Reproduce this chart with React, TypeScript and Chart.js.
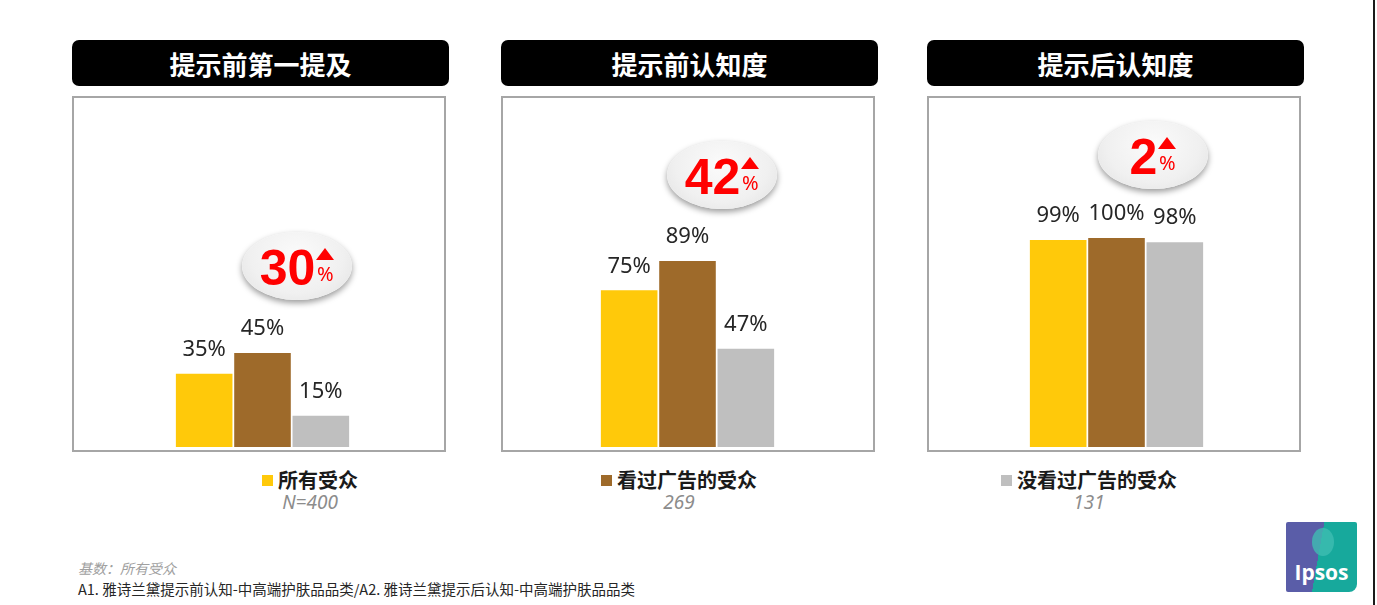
import React, { useEffect, useRef } from "react";
import { Chart, registerables } from "chart.js";

Chart.register(...registerables);

// ---- data ----
const panelTitles = ["提示前第一提及", "提示前认知度", "提示后认知度"];
const audienceGroups = ["所有受众", "看过广告的受众", "没看过广告的受众"];
const sampleSizes = ["N=400", "269", "131"];
const allAudience = [35, 75, 99];
const adExposed = [45, 89, 100];
const notExposed = [15, 47, 98];
const upliftValues = [30, 42, 2];
const footnoteBase = "基数：所有受众";
const footnoteSource = "A1. 雅诗兰黛提示前认知-中高端护肤品品类/A2. 雅诗兰黛提示后认知-中高端护肤品品类";

// ---- styles / layout ----
const groupColors = ["#FFC90A", "#9E6A2A", "#BFBFBF"];
const boxLeft = [72, 501, 927];
const boxWidth = 374;
const boxTop = 96;
const boxHeight = 356;
const barAreaLeft = [175, 600, 1029];
const barAreaWidth = 175;
const plotTop = 238;
const plotBottom = 447;
const badgeCenters = [
  [297, 266],
  [722, 175],
  [1153, 155],
];
const legendLeft = [262, 601, 1001];

const CJK = '"Noto Sans CJK SC", "Noto Sans", sans-serif';

const valueLabelPlugin = {
  id: "valueLabels",
  afterDatasetsDraw(chart: any) {
    const ctx = chart.ctx;
    ctx.save();
    ctx.font = '22px "Noto Sans", sans-serif';
    ctx.fillStyle = "#262626";
    ctx.textAlign = "center";
    ctx.textBaseline = "middle";
    chart.data.datasets.forEach((ds: any, di: number) => {
      const meta = chart.getDatasetMeta(di);
      meta.data.forEach((bar: any, i: number) => {
        ctx.fillText(ds.data[i] + "%", bar.x, bar.y - 24);
      });
    });
    ctx.restore();
  },
};

function PanelChart({ index }: { index: number }) {
  const ref = useRef<HTMLCanvasElement | null>(null);
  useEffect(() => {
    if (!ref.current) return;
    const canvasLeft = boxLeft[index] + 1;
    const canvasTop = boxTop + 1;
    const cw = boxWidth - 2;
    const ch = boxHeight - 2;
    const chart = new Chart(ref.current, {
      type: "bar",
      data: {
        labels: audienceGroups,
        datasets: [
          {
            data: [allAudience[index], adExposed[index], notExposed[index]],
            backgroundColor: groupColors,
            borderWidth: 0,
            barPercentage: 0.97,
            categoryPercentage: 1,
          },
        ],
      },
      options: {
        animation: false,
        responsive: false,
        maintainAspectRatio: false,
        layout: {
          padding: {
            left: barAreaLeft[index] - canvasLeft,
            right: canvasLeft + cw - (barAreaLeft[index] + barAreaWidth),
            top: plotTop - canvasTop,
            bottom: canvasTop + ch - plotBottom,
          },
        },
        plugins: { legend: { display: false }, tooltip: { enabled: false } },
        scales: {
          x: { display: false },
          y: { display: false, min: 0, max: 100 },
        },
      },
      plugins: [valueLabelPlugin],
    });
    return () => chart.destroy();
  }, [index]);
  return (
    <canvas
      ref={ref}
      width={boxWidth - 2}
      height={boxHeight - 2}
      style={{
        position: "absolute",
        left: boxLeft[index] + 1,
        top: boxTop + 1,
        width: boxWidth - 2,
        height: boxHeight - 2,
      }}
    />
  );
}

function Badge({ index }: { index: number }) {
  const [cx, cy] = badgeCenters[index];
  return (
    <div
      style={{
        position: "absolute",
        left: cx - 55,
        top: cy - 34,
        width: 110,
        height: 68,
        borderRadius: "50%",
        background: "radial-gradient(ellipse at 50% 35%, #fbfbfb 0%, #f0f0f0 60%, #e0e0e0 100%)",
        boxShadow: "0 3px 6px rgba(0,0,0,0.4)",
        display: "flex",
        alignItems: "center",
        justifyContent: "center",
      }}
    >
      <span
        style={{
          font: 'bold 50px "Liberation Sans", Arial, sans-serif',
          color: "#FF0000",
          lineHeight: "50px",
          marginTop: 4,
        }}
      >
        {upliftValues[index]}
      </span>
      <span style={{ display: "flex", flexDirection: "column", alignItems: "center", marginLeft: 1 }}>
        <span
          style={{
            width: 0,
            height: 0,
            borderLeft: "9px solid transparent",
            borderRight: "9px solid transparent",
            borderBottom: "12px solid #FF0000",
          }}
        />
        <span
          style={{
            font: '20px "Noto Sans", sans-serif',
            color: "#FF0000",
            lineHeight: "20px",
            marginTop: 4,
          }}
        >
          %
        </span>
      </span>
    </div>
  );
}

function Panel({ index }: { index: number }) {
  return (
    <>
      <div
        style={{
          position: "absolute",
          left: boxLeft[index],
          top: 40,
          width: boxWidth + 3,
          height: 46,
          background: "#000",
          borderRadius: 7,
          color: "#fff",
          font: `bold 26px ${CJK}`,
          display: "flex",
          alignItems: "center",
          justifyContent: "center",
        }}
      >
        {panelTitles[index]}
      </div>
      <div
        style={{
          position: "absolute",
          left: boxLeft[index],
          top: boxTop,
          width: boxWidth - 4,
          height: boxHeight - 4,
          border: "2px solid #a6a6a6",
          background: "#fff",
        }}
      />
      <PanelChart index={index} />
      <Badge index={index} />
      <div style={{ position: "absolute", left: legendLeft[index], top: 467 }}>
        <div style={{ display: "flex", alignItems: "center", height: 26 }}>
          <span style={{ width: 11, height: 11, background: groupColors[index], marginRight: 5 }} />
          <span style={{ font: `bold 20px ${CJK}`, color: "#1a1a1a", lineHeight: "26px" }}>
            {audienceGroups[index]}
          </span>
        </div>
        <div
          style={{
            textAlign: "center",
            font: 'italic 19px "Noto Sans", sans-serif',
            color: "#8c8c8c",
            lineHeight: "22px",
            marginTop: -2,
          }}
        >
          {sampleSizes[index]}
        </div>
      </div>
    </>
  );
}

export default function App() {
  return (
    <div
      style={{
        position: "absolute",
        left: 0,
        top: 0,
        width: 1377,
        height: 605,
        background: "#fff",
        overflow: "hidden",
      }}
    >
      {[0, 1, 2].map((i) => (
        <Panel key={i} index={i} />
      ))}
      <div
        style={{
          position: "absolute",
          left: 78,
          top: 559,
          font: `italic 14px ${CJK}`,
          color: "#a0a0a0",
          lineHeight: "18px",
        }}
      >
        {footnoteBase}
      </div>
      <div
        style={{
          position: "absolute",
          left: 78,
          top: 580,
          font: `14.5px ${CJK}`,
          color: "#262626",
          lineHeight: "18px",
          whiteSpace: "nowrap",
        }}
      >
        {footnoteSource}
      </div>
      <div
        style={{
          position: "absolute",
          left: 1286,
          top: 522,
          width: 71,
          height: 70,
          background: "linear-gradient(100deg, #5a5da8 0%, #5a5da8 46%, #17a99c 46%, #17a99c 100%)",
          borderRadius: "2px 2px 8px 2px",
          overflow: "hidden",
        }}
      >
        <div
          style={{
            position: "absolute",
            left: 26,
            top: 6,
            width: 22,
            height: 28,
            borderRadius: "50%",
            background: "#3fbdb1",
            opacity: 0.8,
          }}
        />
        <div
          style={{
            position: "absolute",
            left: 0,
            width: 71,
            top: 38,
            textAlign: "center",
            font: 'bold 21px "Open Sans", "Noto Sans", sans-serif',
            color: "#fff",
            lineHeight: "24px",
          }}
        >
          Ipsos
        </div>
      </div>
      <div style={{ position: "absolute", left: 1373, top: 0, width: 2, height: 605, background: "#1a1a1a" }} />
    </div>
  );
}
